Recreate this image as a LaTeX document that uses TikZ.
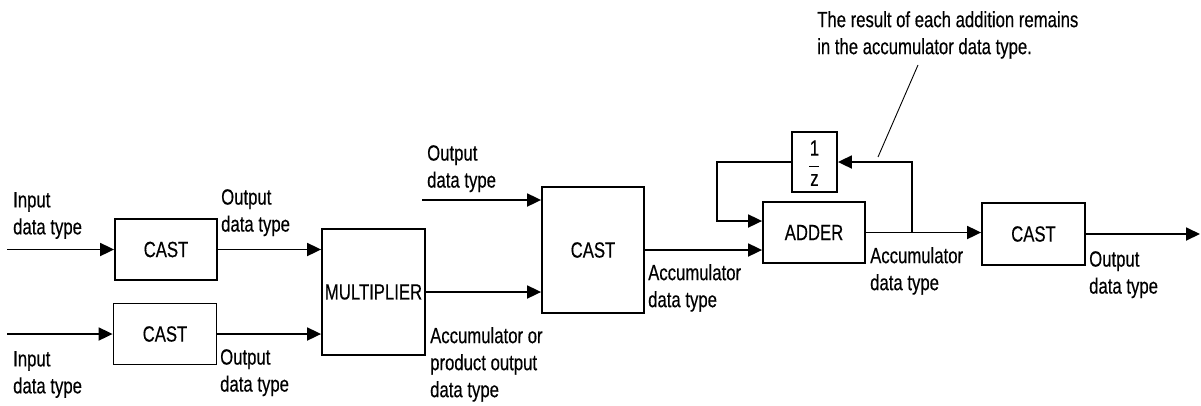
\documentclass[tikz,border=0pt]{standalone}
\usepackage{fontspec}
\setmainfont{Liberation Sans}[FakeStretch=0.76,FakeBold=0.4]
\usetikzlibrary{arrows.meta}
\newcommand{\lblfont}{\fontsize{22}{27}\selectfont}
\begin{document}
\begin{tikzpicture}[x=1pt,y=-1pt,
  blk/.style={draw,line width=1.8pt,inner sep=0pt,font=\lblfont},
  wire/.style={line width=1.8pt},
  arr/.style={wire,-{Triangle[length=14pt,width=13pt]}},
  lbl/.style={anchor=north west,align=left,inner sep=0pt,font=\lblfont},
  lead/.style={line width=0.9pt}]
\useasboundingbox (0,0) rectangle (1201,405);
% blocks
\node[blk,minimum width=102pt,minimum height=61pt] (cast1) at (166,249.5) {CAST};
\node[blk,minimum width=103pt,minimum height=61pt] (cast2) at (165,334) {CAST};
\node[blk,minimum width=103pt,minimum height=126pt] (mult) at (373.5,292) {MULTIPLIER};
\node[blk,minimum width=102pt,minimum height=126pt] (castm) at (593,250) {CAST};
\node[blk,minimum width=102pt,minimum height=61pt] (adder) at (814,232.5) {ADDER};
\node[blk,minimum width=45pt,minimum height=60pt] (delay) at (814.5,162) {};
\node[inner sep=0pt,font=\lblfont] (one) at (814.5,148) {1};
\node[inner sep=0pt,font=\lblfont] (zee) at (814.5,180) {z};
\draw[line width=1pt] (809,166) -- (819,166);
\node[blk,minimum width=103pt,minimum height=62pt] (casto) at (1033.5,234) {CAST};
% free ends
\coordinate (in1) at (7,249.5);
\coordinate (in2) at (7,334);
\coordinate (od) at (422,200);
\coordinate (br) at (912,232.5);
\coordinate (fb) at (717,221);
\coordinate (out) at (1200,234);
% connectors
\draw[arr] (in1) -- (cast1.west);
\draw[arr] (in2) -- (cast2.west);
\draw[arr] (cast1.east) -- (mult.west |- cast1.east);
\draw[arr] (cast2.east) -- (mult.west |- cast2.east);
\draw[arr] (od) -- (castm.west |- od);
\draw[arr] (mult.east) -- (castm.west |- mult.east);
\draw[arr] (castm.east) -- (adder.west |- castm.east);
\draw[arr] (adder.east) -- (casto.west |- adder.east);
\draw[arr] (br) |- (delay.east);
\draw[arr] (delay.west) -| (fb) -- (adder.west |- fb);
\draw[arr] (casto.east) -- (out);
% labels
\node[lbl] (l1) at (13,192) {Input\\data type};
\node[lbl] (l2) at (221,189) {Output\\data type};
\node[lbl] (l3) at (13,351) {Input\\data type};
\node[lbl] (l4) at (220,349) {Output\\data type};
\node[lbl] (l5) at (427,145) {Output\\data type};
\node[lbl] (l6) at (430,327) {Accumulator or\\product output\\data type};
\node[lbl] (l7) at (648,264) {Accumulator\\data type};
\node[lbl] (l8) at (870,247) {Accumulator\\data type};
\node[lbl] (l9) at (1089,251) {Output\\data type};
\node[lbl] (note) at (817,11) {The result of each addition remains\\in the accumulator data type.};
\coordinate (ltop) at (918,65);
\coordinate (lbot) at (878,157);
\draw[lead] (ltop) -- (lbot);
\end{tikzpicture}
\end{document}
